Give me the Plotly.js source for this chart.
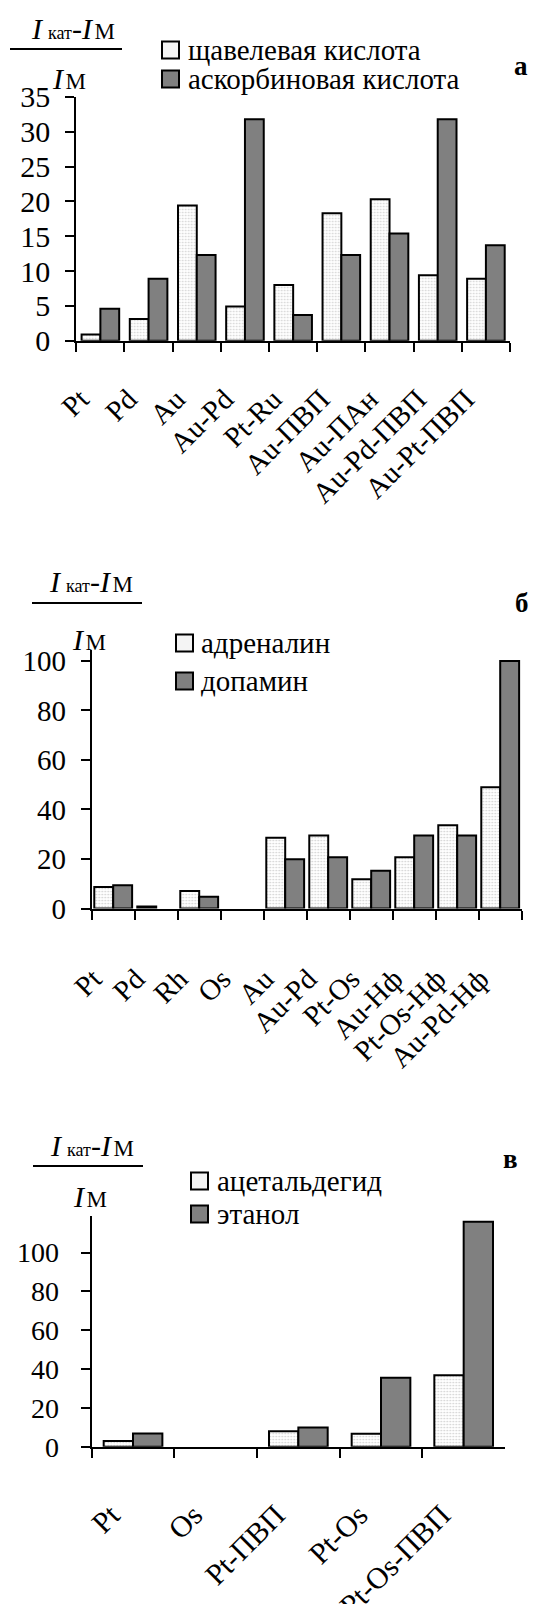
<!DOCTYPE html>
<html>
<head>
<meta charset="utf-8">
<script src="https://cdn.plot.ly/plotly-3.0.1.min.js"></script>
<style>
  html, body { margin: 0; padding: 0; background: #fff; }
  #chart { width: 535px; height: 1604px; }
</style>
</head>
<body>
<div id="chart"></div>
<script>
// ---- panel а: oxalic / ascorbic acid ----
const catsA = ['Pt', 'Pd', 'Au', 'Au-Pd', 'Pt-Ru', 'Au-ПВП', 'Au-ПАн', 'Au-Pd-ПВП', 'Au-Pt-ПВП'];
const oxalic = [0.9, 3.1, 19.4, 4.9, 8.0, 18.3, 20.3, 9.4, 8.9];
const ascorbic = [4.6, 8.9, 12.3, 31.8, 3.7, 12.3, 15.4, 31.8, 13.7];
const ticksA = [0, 5, 10, 15, 20, 25, 30, 35];

// ---- panel б: adrenaline / dopamine ----
const catsB = ['Pt', 'Pd', 'Rh', 'Os', 'Au', 'Au-Pd', 'Pt-Os', 'Au-Hф', 'Pt-Os-Hф', 'Au-Pd-Hф'];
const adrenaline = [8.7, 0.8, 7.1, 0, 28.6, 29.5, 11.8, 20.7, 33.6, 49];
const dopamine = [9.4, 0, 4.7, 0, 19.9, 20.7, 15.2, 29.5, 29.5, 100];
const ticksB = [0, 20, 40, 60, 80, 100];

// ---- panel в: acetaldehyde / ethanol ----
const catsC = ['Pt', 'Os', 'Pt-ПВП', 'Pt-Os', 'Pt-Os-ПВП'];
const acetaldehyde = [2.9, 0, 8.0, 6.7, 36.8];
const ethanol = [6.8, 0, 9.9, 35.6, 116];
const ticksC = [0, 20, 40, 60, 80, 100];

const legendNames = [
  ['щавелевая кислота', 'аскорбиновая кислота'],
  ['адреналин', 'допамин'],
  ['ацетальдегид', 'этанол']
];

// ---- styling ----
const W = 535, H = 1604;
const FONT = "'Liberation Serif', 'Times New Roman', serif";
const LIGHT = '#f4f4f4';
const DARK = '#808080';
const px = x => x / W;
const py = y => 1 - y / H;

// zero values get no outline, so empty categories stay blank
const outline = vals => vals.map(v => (v > 0 ? 2 : 0));

function barPair(cats, a, b, xa, ya, w, names) {
  const common = {
    type: 'bar', x: cats, xaxis: xa, yaxis: ya, width: w,
    showlegend: false, hoverinfo: 'x+y'
  };
  return [
    Object.assign({}, common, {
      y: a, name: names[0], offset: -w,
      marker: {
        color: LIGHT,
        line: { color: '#000', width: outline(a) },
        pattern: { shape: '.', fgcolor: '#cfcfcf', bgcolor: '#ffffff', size: 3, solidity: 0.25 }
      }
    }),
    Object.assign({}, common, {
      y: b, name: names[1], offset: 0,
      marker: { color: DARK, line: { color: '#000', width: outline(b) } }
    })
  ];
}

const data = [
  ...barPair(catsA, oxalic, ascorbic, 'x', 'y', 0.39, legendNames[0]),
  ...barPair(catsB, adrenaline, dopamine, 'x2', 'y2', 0.44, legendNames[1]),
  ...barPair(catsC, acetaldehyde, ethanol, 'x3', 'y3', 0.355, legendNames[2])
];

function xAxis(domain, anchor, n, fs, standoff, shift) {
  return {
    domain: domain, anchor: anchor, type: 'category',
    range: [-0.5, n - 0.5], fixedrange: true,
    showline: true, linecolor: '#000', linewidth: 2,
    ticks: 'outside', tickson: 'boundaries', ticklen: 9, tickwidth: 2, tickcolor: '#000',
    tickangle: -45, ticklabelstandoff: standoff, ticklabelshift: shift,
    tickfont: { family: FONT, size: fs, color: '#000' },
    showgrid: false, zeroline: false
  };
}
function yAxis(domain, anchor, range, tickvals, fs, standoff) {
  return {
    domain: domain, anchor: anchor, range: range, fixedrange: true,
    showline: true, linecolor: '#000', linewidth: 2,
    ticks: 'outside', ticklen: 9, tickwidth: 2, tickcolor: '#000',
    tickmode: 'array', tickvals: tickvals, ticktext: tickvals.map(String),
    ticklabelstandoff: standoff,
    tickfont: { family: FONT, size: fs, color: '#000' },
    showgrid: false, zeroline: false
  };
}

// fraction "(I_кат - I_М) / I_М" heading over each y axis
const numer = "<i>I</i>\u2009<span style='font-size:18px'>кат</span>-<i>I</i>\u200A<span style='font-size:23px'>М</span>";
const denom = "<i>I</i>\u200A<span style='font-size:23px'>М</span>";
function header(cx, numY, lineY, x0, x1, denX, denY) {
  return {
    ann: [
      { text: numer, x: px(cx), y: py(numY), xref: 'paper', yref: 'paper', showarrow: false,
        xanchor: 'center', yanchor: 'middle', font: { family: FONT, size: 30, color: '#000' } },
      { text: denom, x: px(denX), y: py(denY), xref: 'paper', yref: 'paper', showarrow: false,
        xanchor: 'center', yanchor: 'middle', font: { family: FONT, size: 30, color: '#000' } }
    ],
    shape: { type: 'line', xref: 'paper', yref: 'paper', x0: px(x0), x1: px(x1), y0: py(lineY), y1: py(lineY),
             line: { color: '#000', width: 2 } }
  };
}

function legendBlock(names, boxX, rowYs, textX, fs) {
  const anns = [], shapes = [];
  const s = 17;
  names.forEach((n, i) => {
    const yc = rowYs[i];
    shapes.push({ type: 'rect', xref: 'paper', yref: 'paper',
      x0: px(boxX), x1: px(boxX + s), y0: py(yc - s / 2), y1: py(yc + s / 2),
      fillcolor: i === 0 ? LIGHT : DARK, line: { color: '#000', width: 2 } });
    anns.push({ text: n, x: px(textX), y: py(yc), xref: 'paper', yref: 'paper', showarrow: false,
      xanchor: 'left', yanchor: 'middle', font: { family: FONT, size: fs, color: '#000' } });
  });
  return { anns, shapes };
}

function letter(t, x, y) {
  return { text: '<b>' + t + '</b>', x: px(x), y: py(y), xref: 'paper', yref: 'paper', showarrow: false,
    xanchor: 'center', yanchor: 'middle', font: { family: FONT, size: 27, color: '#000' } };
}

const hA = header(73, 28, 49, 10, 122, 69, 78);
const hB = header(91, 581, 603, 32, 142, 89, 639);
const hC = header(92, 1145, 1166, 33, 143, 90, 1196);
const lA = legendBlock(legendNames[0], 162, [50, 79], 186, 29);
const lB = legendBlock(legendNames[1], 176, [643, 681], 199, 29);
const lC = legendBlock(legendNames[2], 191, [1181, 1214], 215, 29);

const layout = {
  width: W, height: H,
  margin: { l: 0, r: 0, t: 0, b: 0 },
  font: { family: FONT, color: '#000' },
  paper_bgcolor: '#fff', plot_bgcolor: 'rgba(0,0,0,0)',
  barmode: 'overlay',
  xaxis: xAxis([px(76.3), px(510)], 'y', catsA.length, 29, 28, -20),
  yaxis: yAxis([py(340.7), py(96.9)], 'x', [0, 35], ticksA, 30, 9),
  xaxis2: xAxis([px(91.7), px(521.7)], 'y2', catsB.length, 29, 40, -20),
  yaxis2: yAxis([py(908.5), py(650)], 'x2', [0, 104.4], ticksB, 29, 9),
  xaxis3: xAxis([px(91.7), px(505)], 'y3', catsC.length, 30, 37, -22),
  yaxis3: yAxis([py(1446.7), py(1216)], 'x3', [0, 118.9], ticksC, 28, 16),
  annotations: [
    ...hA.ann, ...hB.ann, ...hC.ann,
    ...lA.anns, ...lB.anns, ...lC.anns,
    letter('а', 521, 66), letter('б', 522, 603), letter('в', 510, 1159)
  ],
  shapes: [hA.shape, hB.shape, hC.shape, ...lA.shapes, ...lB.shapes, ...lC.shapes]
};

Plotly.newPlot('chart', data, layout, { staticPlot: true, displayModeBar: false });
</script>
</body>
</html>
